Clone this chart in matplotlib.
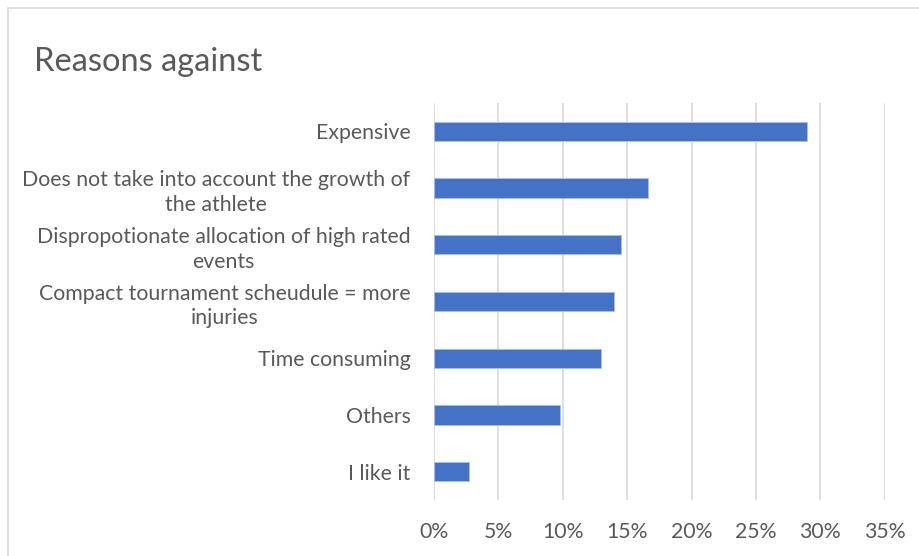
import matplotlib.pyplot as plt
from matplotlib.patches import Rectangle
from matplotlib.ticker import PercentFormatter

plt.rcParams['font.family'] = ['Lato', 'DejaVu Sans']

categories = ['Expensive',
              'Does not take into account the growth of\nthe athlete',
              'Dispropotionate allocation of high rated\nevents',
              'Compact tournament scheudule = more\ninjuries',
              'Time consuming',
              'Others',
              'I like it']
values = [29.0, 16.6, 14.5, 14.0, 13.0, 9.75, 2.75]
ticks = [0, 5, 10, 15, 20, 25, 30, 35]

fig = plt.figure(figsize=(9.2, 5.56), dpi=100)
# chart border
fig.patches.append(Rectangle((8 / 920, -0.1), 1.1, 1 - 8 / 556 + 0.1,
                             transform=fig.transFigure, fill=False,
                             edgecolor='#d9d9d9', linewidth=1.2))
ax = fig.add_axes([434 / 920, 1 - 500 / 556, 450.7 / 920, 397 / 556])

y = range(len(categories))
ax.barh(y, values, height=0.34, color='#4472c4', edgecolor='#a9bfe6',
        linewidth=0.6, zorder=3)
ax.set_ylim(len(categories) - 0.5, -0.5)
ax.set_xlim(0, 35)
ax.set_xticks(ticks)
ax.xaxis.set_major_formatter(PercentFormatter(decimals=0))
ax.set_yticks(list(y))
ax.set_yticklabels(categories, multialignment='center', linespacing=1.3)
ax.grid(axis='x', color='#d9d9d9', linewidth=1.2, zorder=0)
for s in ax.spines.values():
    s.set_visible(False)
ax.tick_params(length=0, labelcolor='#595959', labelsize=15.3)
ax.tick_params(axis='y', pad=17)
ax.tick_params(axis='x', pad=16)

fig.text(34 / 920, 1 - 62 / 556, 'Reasons against', fontsize=23.5,
         color='#595959', va='center', ha='left')

fig.savefig('out.png', dpi=100)
